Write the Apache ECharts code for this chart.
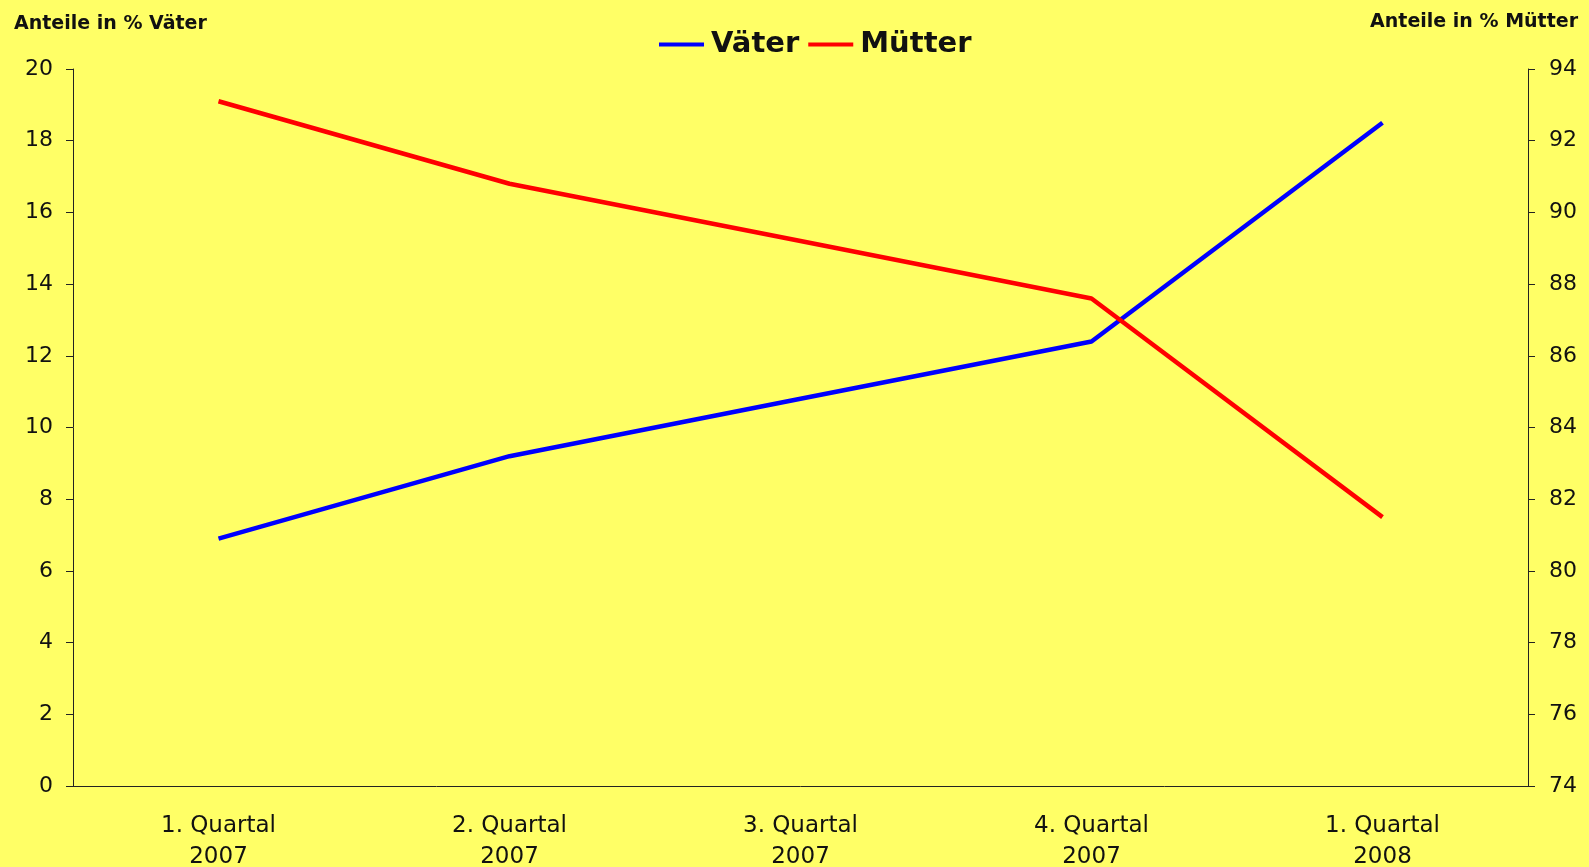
<!DOCTYPE html>
<html>
<head>
<meta charset="utf-8">
<script src="https://cdn.jsdelivr.net/npm/echarts@6/dist/echarts.min.js"></script>
<style>
  html, body { margin: 0; padding: 0; background: #ffff66; }
  #chart { width: 1589px; height: 867px; }
</style>
</head>
<body>
<div id="chart"></div>
<script>
const quarters = ['1. Quartal\n2007', '2. Quartal\n2007', '3. Quartal\n2007', '4. Quartal\n2007', '1. Quartal\n2008']
const vaeter = [6.9, 9.2, 10.8, 12.4, 18.5]
const muetter = [93.1, 90.8, 89.2, 87.6, 81.5]

const font = 'DejaVu Sans'
const chart = echarts.init(document.getElementById('chart'))

const axisLine = { show: true, lineStyle: { color: '#222', width: 1 } }

chart.setOption({
  backgroundColor: '#ffff66',
  animation: false,
  title: [
    {
      text: 'Anteile in % Väter',
      left: 9,
      top: 10,
      textStyle: { fontFamily: font, fontSize: 19, fontWeight: 'bold', color: '#111' }
    },
    {
      text: 'Anteile in % Mütter',
      right: 6,
      top: 8,
      textStyle: { fontFamily: font, fontSize: 19, fontWeight: 'bold', color: '#111' }
    }
  ],
  legend: {
    left: 654,
    top: 25,
    icon: 'rect',
    itemWidth: 45,
    itemHeight: 4,
    itemGap: 9,
    textStyle: { fontFamily: font, fontSize: 29, fontWeight: 'bold', color: '#111', padding: [0, 0, 0, 2] },
    data: ['Väter', 'Mütter']
  },
  grid: { left: 73, right: 61, top: 69, bottom: 81, outerBoundsMode: 'none' },
  xAxis: {
    type: 'category',
    data: quarters,
    boundaryGap: true,
    axisLine: axisLine,
    axisTick: { show: false },
    axisLabel: { fontFamily: font, fontSize: 23, color: '#111', margin: 25, lineHeight: 31 }
  },
  yAxis: [
    {
      type: 'value',
      min: 0,
      max: 20,
      interval: 2,
      position: 'left',
      axisLine: axisLine,
      axisTick: { show: true, length: 7, lineStyle: { color: '#222' } },
      axisLabel: { fontFamily: font, fontSize: 22, color: '#111', margin: 20 },
      splitLine: { show: false }
    },
    {
      type: 'value',
      min: 74,
      max: 94,
      interval: 2,
      position: 'right',
      axisLine: axisLine,
      axisTick: { show: true, length: 7, lineStyle: { color: '#222' } },
      axisLabel: { fontFamily: font, fontSize: 22, color: '#111', margin: 21 },
      splitLine: { show: false }
    }
  ],
  series: [
    {
      name: 'Väter',
      type: 'line',
      yAxisIndex: 0,
      data: vaeter,
      showSymbol: false,
      color: '#0000ff',
      lineStyle: { width: 4.5, color: '#0000ff' }
    },
    {
      name: 'Mütter',
      type: 'line',
      yAxisIndex: 1,
      data: muetter,
      showSymbol: false,
      color: '#ff0000',
      lineStyle: { width: 4.5, color: '#ff0000' }
    }
  ]
})
</script>
</body>
</html>
